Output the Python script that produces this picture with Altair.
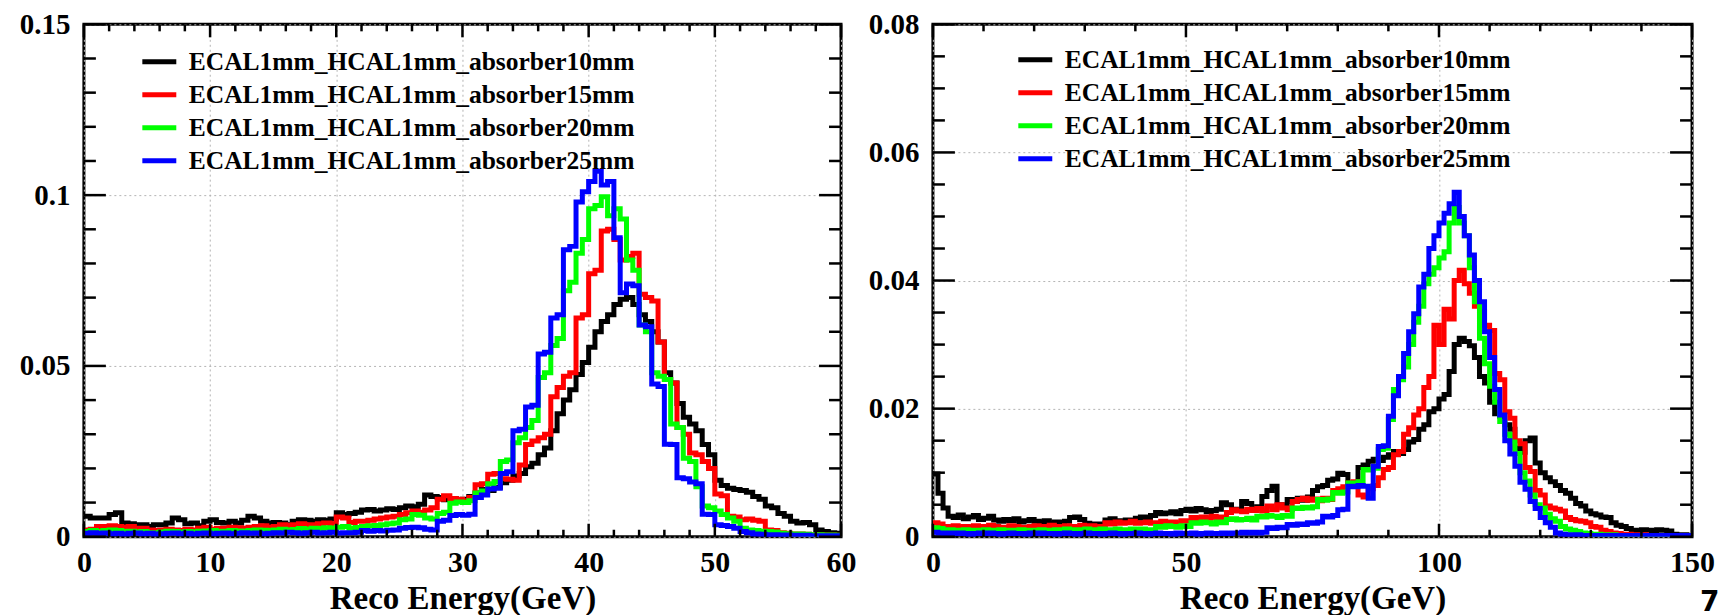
import altair as alt
import pandas as pd

SERIES = [
    "ECAL1mm_HCAL1mm_absorber10mm",
    "ECAL1mm_HCAL1mm_absorber15mm",
    "ECAL1mm_HCAL1mm_absorber20mm",
    "ECAL1mm_HCAL1mm_absorber25mm",
]
COLORS = ["#000000", "#ff0000", "#00ff00", "#0000ff"]

# ---------------- left panel: 0.5 GeV bins, 0..60 GeV ----------------
LEFT_BIN = 0.5
black_L = [
    0.0060, 0.0055, 0.0055, 0.0055, 0.0065, 0.0070, 0.0040, 0.0038, 0.0035, 0.0035,
    0.0030, 0.0035, 0.0035, 0.0040, 0.0055, 0.0050, 0.0038, 0.0040, 0.0032, 0.0045,
    0.0050, 0.0042, 0.0040, 0.0045, 0.0040, 0.0048, 0.0060, 0.0055, 0.0045, 0.0040,
    0.0042, 0.0040, 0.0035, 0.0045, 0.0050, 0.0048, 0.0045, 0.0050, 0.0048, 0.0052,
    0.0070, 0.0065, 0.0068, 0.0072, 0.0078, 0.0080, 0.0075, 0.0078, 0.0082, 0.0080,
    0.0085, 0.0090, 0.0088, 0.0095, 0.0122, 0.0118, 0.0115, 0.0108, 0.0112, 0.0105,
    0.0110, 0.0118, 0.0128, 0.0138, 0.0135, 0.0145, 0.0158, 0.0165, 0.0178, 0.0185,
    0.0205, 0.0215, 0.0240, 0.0260, 0.0310, 0.0360, 0.0400, 0.0430, 0.0475, 0.0510,
    0.0555, 0.0600, 0.0630, 0.0650, 0.0680, 0.0695, 0.0700, 0.0680, 0.0650, 0.0630,
    0.0600, 0.0570, 0.0480, 0.0450, 0.0390, 0.0350, 0.0330, 0.0310, 0.0270, 0.0240,
    0.0165, 0.0150, 0.0142, 0.0138, 0.0135, 0.0130, 0.0118, 0.0110, 0.0090, 0.0085,
    0.0068, 0.0060, 0.0045, 0.0040, 0.0042, 0.0035, 0.0020, 0.0015, 0.0012, 0.0010,
]
red_L = [
    0.0020, 0.0022, 0.0030, 0.0030, 0.0032, 0.0030, 0.0028, 0.0030, 0.0025, 0.0025,
    0.0020, 0.0018, 0.0020, 0.0022, 0.0020, 0.0018, 0.0022, 0.0020, 0.0025, 0.0028,
    0.0022, 0.0025, 0.0025, 0.0028, 0.0026, 0.0025, 0.0028, 0.0030, 0.0032, 0.0028,
    0.0030, 0.0035, 0.0033, 0.0035, 0.0038, 0.0035, 0.0035, 0.0038, 0.0040, 0.0038,
    0.0058, 0.0055, 0.0042, 0.0045, 0.0045, 0.0048, 0.0052, 0.0055, 0.0058, 0.0060,
    0.0065, 0.0070, 0.0075, 0.0072, 0.0078, 0.0085, 0.0110, 0.0120, 0.0112, 0.0110,
    0.0105, 0.0115, 0.0152, 0.0155, 0.0183, 0.0185, 0.0170, 0.0168, 0.0165, 0.0210,
    0.0270, 0.0280, 0.0290, 0.0300, 0.0410, 0.0437, 0.0470, 0.0480, 0.0640, 0.0650,
    0.0770, 0.0780, 0.0895, 0.0900, 0.0870, 0.0810, 0.0820, 0.0830, 0.0710, 0.0700,
    0.0690, 0.0570, 0.0460, 0.0450, 0.0320, 0.0300, 0.0245, 0.0240, 0.0220, 0.0200,
    0.0125, 0.0120, 0.0060, 0.0058, 0.0050, 0.0052, 0.0048, 0.0045, 0.0020, 0.0018,
    0.0012, 0.0010, 0.0008, 0.0008, 0.0007, 0.0006, 0.0006, 0.0005, 0.0005, 0.0004,
]
green_L = [
    0.0015, 0.0018, 0.0015, 0.0018, 0.0020, 0.0018, 0.0015, 0.0016, 0.0014, 0.0015,
    0.0012, 0.0012, 0.0014, 0.0016, 0.0015, 0.0013, 0.0015, 0.0014, 0.0016, 0.0017,
    0.0018, 0.0015, 0.0016, 0.0018, 0.0017, 0.0016, 0.0018, 0.0020, 0.0019, 0.0018,
    0.0020, 0.0022, 0.0020, 0.0021, 0.0024, 0.0022, 0.0025, 0.0024, 0.0026, 0.0025,
    0.0028, 0.0030, 0.0025, 0.0027, 0.0030, 0.0032, 0.0033, 0.0035, 0.0038, 0.0040,
    0.0050, 0.0052, 0.0065, 0.0063, 0.0055, 0.0052, 0.0068, 0.0072, 0.0098, 0.0102,
    0.0100, 0.0105, 0.0128, 0.0134, 0.0155, 0.0162, 0.0220, 0.0225, 0.0275, 0.0290,
    0.0320, 0.0340, 0.0466, 0.0480, 0.0560, 0.0580, 0.0720, 0.0745, 0.0830, 0.0870,
    0.0960, 0.0970, 0.0995, 0.0940, 0.0960, 0.0930, 0.0810, 0.0780, 0.0620, 0.0600,
    0.0480, 0.0470, 0.0460, 0.0330, 0.0320, 0.0230, 0.0220, 0.0146, 0.0090, 0.0085,
    0.0075, 0.0065, 0.0055, 0.0045, 0.0025, 0.0020, 0.0018, 0.0016, 0.0015, 0.0014,
    0.0010, 0.0009, 0.0008, 0.0008, 0.0007, 0.0006, 0.0006, 0.0005, 0.0005, 0.0004,
]
blue_L = [
    0.0010, 0.0012, 0.0010, 0.0011, 0.0009, 0.0010, 0.0008, 0.0010, 0.0011, 0.0009,
    0.0010, 0.0008, 0.0009, 0.0010, 0.0011, 0.0009, 0.0010, 0.0008, 0.0010, 0.0011,
    0.0009, 0.0010, 0.0011, 0.0009, 0.0010, 0.0012, 0.0010, 0.0011, 0.0009, 0.0010,
    0.0012, 0.0011, 0.0013, 0.0012, 0.0010, 0.0012, 0.0013, 0.0011, 0.0012, 0.0013,
    0.0011, 0.0012, 0.0012, 0.0013, 0.0018, 0.0016, 0.0018, 0.0017, 0.0019, 0.0020,
    0.0025, 0.0027, 0.0028, 0.0026, 0.0022, 0.0020, 0.0045, 0.0048, 0.0062, 0.0065,
    0.0063, 0.0066, 0.0115, 0.0122, 0.0140, 0.0142, 0.0185, 0.0190, 0.0310, 0.0315,
    0.0380, 0.0385, 0.0535, 0.0540, 0.0640, 0.0650, 0.0840, 0.0850, 0.0980, 0.1010,
    0.1040, 0.1070, 0.1030, 0.1040, 0.0875, 0.0714, 0.0740, 0.0735, 0.0620, 0.0615,
    0.0447, 0.0440, 0.0271, 0.0270, 0.0173, 0.0170, 0.0160, 0.0155, 0.0066, 0.0065,
    0.0035, 0.0033, 0.0030, 0.0025, 0.0015, 0.0012, 0.0008, 0.0007, 0.0006, 0.0006,
    0.0005, 0.0005, 0.0004, 0.0004, 0.0004, 0.0003, 0.0003, 0.0003, 0.0003, 0.0003,
]

# ---------------- right panel: 1 GeV bins, 0..150 GeV ----------------
RIGHT_BIN = 1.0
black_R = [
    0.0098, 0.0068, 0.0045, 0.0032, 0.0030, 0.0034, 0.0028, 0.0031, 0.0033, 0.0027,
    0.0029, 0.0032, 0.0026, 0.0024, 0.0027, 0.0025, 0.0028, 0.0023, 0.0025, 0.0027,
    0.0024, 0.0022, 0.0025, 0.0021, 0.0023, 0.0022, 0.0024, 0.0030, 0.0031, 0.0027,
    0.0021, 0.0019, 0.0020, 0.0018, 0.0026, 0.0028, 0.0025, 0.0024, 0.0026, 0.0025,
    0.0029, 0.0031, 0.0030, 0.0033, 0.0038, 0.0036, 0.0037, 0.0039, 0.0036, 0.0041,
    0.0043, 0.0040, 0.0044, 0.0042, 0.0039, 0.0041, 0.0043, 0.0053, 0.0050, 0.0043,
    0.0041, 0.0055, 0.0052, 0.0043, 0.0047, 0.0063, 0.0072, 0.0079, 0.0050, 0.0046,
    0.0058, 0.0055, 0.0060, 0.0057, 0.0062, 0.0072, 0.0078, 0.0080, 0.0088, 0.0090,
    0.0099, 0.0097, 0.0080, 0.0082, 0.0108, 0.0112, 0.0118, 0.0121, 0.0119, 0.0124,
    0.0128, 0.0133, 0.0130, 0.0136, 0.0148, 0.0152, 0.0168, 0.0175, 0.0195, 0.0200,
    0.0215, 0.0222, 0.0258, 0.0300, 0.0310, 0.0305, 0.0298, 0.0280, 0.0250, 0.0240,
    0.0210, 0.0192, 0.0188, 0.0175, 0.0168, 0.0138, 0.0132, 0.0150, 0.0154, 0.0115,
    0.0100, 0.0092, 0.0086, 0.0080, 0.0072, 0.0068, 0.0060, 0.0052, 0.0048, 0.0040,
    0.0036, 0.0034, 0.0031, 0.0030, 0.0022, 0.0018, 0.0016, 0.0013, 0.0010, 0.0009,
    0.0011, 0.0010, 0.0009, 0.0011, 0.0010, 0.0009, 0.0004, 0.0003, 0.0003, 0.0002,
]
red_R = [
    0.0022, 0.0020, 0.0016, 0.0015, 0.0017, 0.0015, 0.0016, 0.0014, 0.0017, 0.0016,
    0.0015, 0.0018, 0.0016, 0.0014, 0.0015, 0.0017, 0.0016, 0.0015, 0.0014, 0.0016,
    0.0017, 0.0015, 0.0016, 0.0018, 0.0016, 0.0015, 0.0017, 0.0016, 0.0015, 0.0018,
    0.0016, 0.0017, 0.0015, 0.0016, 0.0022, 0.0020, 0.0023, 0.0021, 0.0022, 0.0024,
    0.0021, 0.0022, 0.0023, 0.0021, 0.0022, 0.0024, 0.0022, 0.0023, 0.0021, 0.0025,
    0.0024, 0.0030, 0.0028, 0.0031, 0.0029, 0.0032, 0.0030, 0.0031, 0.0038, 0.0042,
    0.0040, 0.0039, 0.0043, 0.0041, 0.0044, 0.0040, 0.0048, 0.0042, 0.0050, 0.0045,
    0.0042, 0.0055, 0.0058, 0.0060, 0.0057, 0.0059, 0.0056, 0.0060, 0.0058, 0.0072,
    0.0075, 0.0078, 0.0084, 0.0086, 0.0065, 0.0062, 0.0075, 0.0080, 0.0092, 0.0105,
    0.0108, 0.0128, 0.0133, 0.0160, 0.0170, 0.0190, 0.0200, 0.0233, 0.0250, 0.0330,
    0.0300, 0.0355, 0.0340, 0.0400, 0.0416, 0.0395, 0.0380, 0.0360, 0.0352, 0.0330,
    0.0322, 0.0255, 0.0245, 0.0195, 0.0185, 0.0150, 0.0145, 0.0108, 0.0102, 0.0072,
    0.0065, 0.0048, 0.0045, 0.0043, 0.0040, 0.0030, 0.0027, 0.0025, 0.0024, 0.0022,
    0.0016, 0.0015, 0.0010, 0.0008, 0.0006, 0.0005, 0.0004, 0.0004, 0.0003, 0.0003,
    0.0003, 0.0002, 0.0002, 0.0002, 0.0002, 0.0002, 0.0001, 0.0001, 0.0001, 0.0001,
]
green_R = [
    0.0014, 0.0013, 0.0010, 0.0011, 0.0009, 0.0010, 0.0011, 0.0010, 0.0009, 0.0010,
    0.0011, 0.0010, 0.0009, 0.0011, 0.0010, 0.0010, 0.0009, 0.0011, 0.0010, 0.0009,
    0.0010, 0.0011, 0.0010, 0.0009, 0.0011, 0.0010, 0.0012, 0.0011, 0.0010, 0.0011,
    0.0012, 0.0010, 0.0011, 0.0012, 0.0011, 0.0010, 0.0012, 0.0011, 0.0010, 0.0012,
    0.0011, 0.0012, 0.0010, 0.0011, 0.0016, 0.0015, 0.0017, 0.0016, 0.0015, 0.0017,
    0.0016, 0.0022, 0.0021, 0.0023, 0.0022, 0.0020, 0.0023, 0.0022, 0.0027, 0.0028,
    0.0026, 0.0027, 0.0029, 0.0026, 0.0032, 0.0031, 0.0033, 0.0032, 0.0030, 0.0033,
    0.0032, 0.0045, 0.0044, 0.0046, 0.0045, 0.0047, 0.0058, 0.0057, 0.0059, 0.0069,
    0.0068, 0.0070, 0.0084, 0.0083, 0.0086, 0.0105, 0.0104, 0.0107, 0.0136, 0.0138,
    0.0183, 0.0230, 0.0245, 0.0265, 0.0300, 0.0335, 0.0360, 0.0395, 0.0410, 0.0420,
    0.0435, 0.0445, 0.0490, 0.0514, 0.0490, 0.0470, 0.0420, 0.0367, 0.0310, 0.0270,
    0.0235, 0.0210, 0.0180, 0.0160, 0.0148, 0.0130, 0.0100, 0.0087, 0.0065, 0.0050,
    0.0045, 0.0035, 0.0028, 0.0024, 0.0016, 0.0012, 0.0010, 0.0008, 0.0006, 0.0005,
    0.0004, 0.0004, 0.0003, 0.0003, 0.0003, 0.0002, 0.0002, 0.0002, 0.0002, 0.0002,
    0.0001, 0.0001, 0.0001, 0.0001, 0.0001, 0.0001, 0.0001, 0.0001, 0.0001, 0.0001,
]
blue_R = [
    0.0007, 0.0006, 0.0005, 0.0006, 0.0005, 0.0006, 0.0005, 0.0004, 0.0005, 0.0006,
    0.0005, 0.0006, 0.0005, 0.0004, 0.0005, 0.0006, 0.0005, 0.0005, 0.0004, 0.0006,
    0.0005, 0.0006, 0.0005, 0.0005, 0.0004, 0.0005, 0.0006, 0.0005, 0.0004, 0.0005,
    0.0006, 0.0005, 0.0005, 0.0004, 0.0005, 0.0006, 0.0005, 0.0004, 0.0005, 0.0005,
    0.0006, 0.0005, 0.0004, 0.0005, 0.0006, 0.0005, 0.0005, 0.0004, 0.0006, 0.0005,
    0.0005, 0.0006, 0.0004, 0.0005, 0.0006, 0.0005, 0.0005, 0.0006, 0.0005, 0.0006,
    0.0006, 0.0007, 0.0006, 0.0007, 0.0006, 0.0007, 0.0014, 0.0013, 0.0015, 0.0014,
    0.0019, 0.0018, 0.0020, 0.0019, 0.0022, 0.0021, 0.0023, 0.0032, 0.0031, 0.0033,
    0.0042, 0.0043, 0.0079, 0.0078, 0.0080, 0.0079, 0.0060, 0.0110, 0.0141, 0.0142,
    0.0188, 0.0220, 0.0250, 0.0286, 0.0320, 0.0348, 0.0390, 0.0410, 0.0450, 0.0470,
    0.0490, 0.0505, 0.0520, 0.0538, 0.0500, 0.0470, 0.0440, 0.0400, 0.0367, 0.0320,
    0.0280, 0.0230, 0.0190, 0.0150, 0.0129, 0.0110, 0.0085, 0.0074, 0.0055, 0.0044,
    0.0030, 0.0022, 0.0015, 0.0006, 0.0004, 0.0003, 0.0003, 0.0003, 0.0002, 0.0002,
    0.0002, 0.0002, 0.0002, 0.0002, 0.0002, 0.0002, 0.0002, 0.0002, 0.0002, 0.0002,
    0.0002, 0.0002, 0.0002, 0.0002, 0.0002, 0.0002, 0.0002, 0.0002, 0.0002, 0.0002,
]

# axis ticks (values)
L_X_MAJOR = [0, 10, 20, 30, 40, 50, 60]
L_X_MINOR = [v for v in range(0, 61, 2) if v % 10 != 0]
L_Y_MAJOR = [0, 0.05, 0.1, 0.15]
L_Y_MINOR = [round(0.01 * k, 3) for k in range(0, 16) if k % 5 != 0]
R_X_MAJOR = [0, 50, 100, 150]
R_X_MINOR = [v for v in range(0, 151, 10) if v % 50 != 0]
R_Y_MAJOR = [0, 0.02, 0.04, 0.06, 0.08]
R_Y_MINOR = [round(0.005 * k, 4) for k in range(0, 17) if k % 4 != 0]

FONT = "Liberation Serif"
X_TITLE = "Reco Energy(GeV)"


def hist_frame(series_values, bin_w):
    rows = []
    for name, vals in zip(SERIES, series_values):
        for i, v in enumerate(vals):
            rows.append({"series": name, "e": i * bin_w, "v": v})
        rows.append({"series": name, "e": len(vals) * bin_w, "v": vals[-1]})
    return pd.DataFrame(rows)


def panel(df, xmax, ymax, xmaj, xmin, ymaj, ymin, W, H, lx, ly, extra=None):
    xs = alt.Scale(domain=[0, xmax], nice=False, zero=False)
    ys = alt.Scale(domain=[0, ymax], nice=False, zero=False)
    xaxis = alt.Axis(values=xmaj, ticks=False, domain=False, grid=True,
                     gridDash=[2, 3], gridColor="#b4b4b4", gridWidth=1,
                     labelFont=FONT, labelFontSize=30, labelFontWeight="bold",
                     labelColor="black", labelPadding=11, labelFlush=False,
                     labelOverlap=False, labelExpr="'' + datum.value",
                     titleFont=FONT, titleFontSize=33, titleFontWeight="bold",
                     titleColor="black", titlePadding=5)
    yaxis = alt.Axis(values=ymaj, ticks=False, domain=False, grid=True,
                     gridDash=[2, 3], gridColor="#b4b4b4", gridWidth=1,
                     labelFont=FONT, labelFontSize=29, labelFontWeight="bold",
                     labelColor="black", labelPadding=14, labelFlush=False,
                     labelOverlap=False, labelExpr="'' + datum.value")

    def X(f):
        return alt.X(f, type="quantitative", scale=xs, axis=xaxis, title=X_TITLE)

    def Y(f):
        return alt.Y(f, type="quantitative", scale=ys, axis=yaxis, title=None)

    color = alt.Color(
        "series:N",
        scale=alt.Scale(domain=SERIES, range=COLORS),
        legend=alt.Legend(title=None, orient="none", legendX=lx, legendY=ly,
                          symbolType="stroke", symbolStrokeWidth=5, symbolSize=1156,
                          labelFont=FONT, labelFontSize=25.5, labelFontWeight="bold",
                          labelColor="black", labelLimit=800, labelOffset=10,
                          rowPadding=0, padding=0),
    )

    layers = []
    for name in SERIES:
        layers.append(
            alt.Chart(df).transform_filter(alt.datum.series == name)
            .mark_line(interpolate="step-after", strokeWidth=5, clip=True)
            .encode(x=X("e"), y=Y("v"), color=color)
        )

    tick_w = 2.5
    xmin_df = pd.DataFrame({"t": xmin})
    xmaj_df = pd.DataFrame({"t": xmaj})
    ymin_df = pd.DataFrame({"t": ymin})
    ymaj_df = pd.DataFrame({"t": ymaj})
    for d, ln in ((xmin_df, 7), (xmaj_df, 13)):
        layers.append(alt.Chart(d).mark_rule(color="black", strokeWidth=tick_w)
                      .encode(x=X("t"), y=alt.value(H), y2=alt.value(H - ln)))
        layers.append(alt.Chart(d).mark_rule(color="black", strokeWidth=tick_w)
                      .encode(x=X("t"), y=alt.value(0), y2=alt.value(ln)))
    for d, ln in ((ymin_df, 12), (ymaj_df, 22)):
        layers.append(alt.Chart(d).mark_rule(color="black", strokeWidth=tick_w)
                      .encode(y=Y("t"), x=alt.value(0), x2=alt.value(ln)))
        layers.append(alt.Chart(d).mark_rule(color="black", strokeWidth=tick_w)
                      .encode(y=Y("t"), x=alt.value(W), x2=alt.value(W - ln)))
    if extra is not None:
        layers.append(extra)
    return alt.layer(*layers).properties(width=W, height=H)


left_df = hist_frame([black_L, red_L, green_L, blue_L], LEFT_BIN)
right_df = hist_frame([black_R, red_R, green_R, blue_R], RIGHT_BIN)

W_L, W_R, H = 758, 760, 513

page_no = alt.Chart(pd.DataFrame({"s": ["7"]})).mark_text(
    font="DejaVu Sans", fontSize=28, fontWeight="bold", color="black",
    align="left", baseline="top"
).encode(text="s:N", x=alt.value(W_R + 8), y=alt.value(H + 52))

left = panel(left_df, 60, 0.15, L_X_MAJOR, L_X_MINOR, L_Y_MAJOR, L_Y_MINOR,
             W_L, H, 56, 18)
right = panel(right_df, 150, 0.08, R_X_MAJOR, R_X_MINOR, R_Y_MAJOR, R_Y_MINOR,
              W_R, H, 83, 16, extra=page_no)

chart = (
    alt.hconcat(left, right, spacing=8)
    .resolve_scale(color="independent")
    .resolve_legend(color="independent")
    .properties(padding={"left": 17, "top": 8, "right": 0, "bottom": 0},
                background="white")
    .configure_view(stroke="black", strokeWidth=3)
)

chart.save("out.html", embed_options={"renderer": "svg", "actions": False})
